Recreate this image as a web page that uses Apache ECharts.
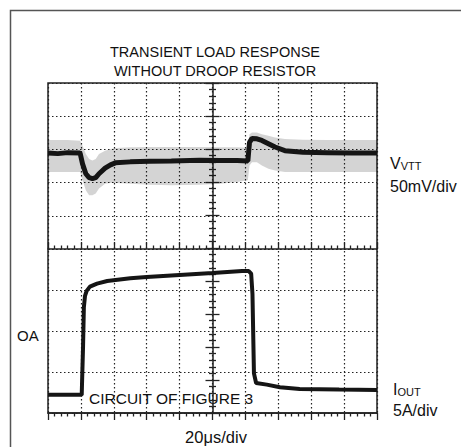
<!DOCTYPE html>
<html>
<head>
<meta charset="utf-8">
<script src="https://cdn.jsdelivr.net/npm/echarts@6/dist/echarts.min.js"></script>
<style>
html,body{margin:0;padding:0;background:#fff;}
#c{width:461px;height:447px;}
</style>
</head>
<body>
<div id="c"></div>
<script>
// ---- data (time in µs, 20 µs/div; vertical in screen divisions, 0 = bottom graticule line) ----
var timeTicks = [0, 20, 40, 60, 80, 100, 120, 140, 160, 180, 200];

var vttTime = [0, 6, 12, 19.5, 21, 23, 25, 27, 29, 31, 34.7, 38, 41, 50, 62, 75, 92, 105, 115, 121.5, 122.5, 124, 127, 130, 134, 138, 144, 155, 170, 185, 200];
var vttDiv  = [7.88, 7.86, 7.89, 7.88, 7.55, 7.25, 7.13, 7.10, 7.13, 7.25, 7.42, 7.52, 7.58, 7.61, 7.63, 7.64, 7.66, 7.65, 7.65, 7.64, 8.20, 8.32, 8.31, 8.26, 8.16, 8.06, 7.95, 7.90, 7.89, 7.88, 7.88];
var vttNoiseTop    = [8.27, 8.27, 8.27, 8.25, 8.10, 7.85, 7.70, 7.65, 7.70, 7.85, 7.95, 8.00, 8.03, 8.05, 8.06, 8.06, 8.06, 8.05, 8.05, 8.04, 8.45, 8.50, 8.50, 8.45, 8.40, 8.35, 8.30, 8.28, 8.27, 8.27, 8.27];
var vttNoiseBottom = [7.30, 7.30, 7.30, 7.30, 7.05, 6.75, 6.60, 6.60, 6.65, 6.80, 6.95, 6.97, 6.97, 6.95, 6.92, 6.90, 6.92, 6.95, 7.00, 7.05, 7.50, 7.60, 7.60, 7.50, 7.40, 7.35, 7.30, 7.30, 7.30, 7.30, 7.30];

var ioutTime = [0, 20.5, 21.3, 21.8, 22.5, 23.5, 25.5, 29.8, 36, 50, 60, 80, 100, 118, 122, 123.5, 124.3, 125.2, 126.5, 133, 141, 153, 177, 200];
var ioutDiv  = [0.55, 0.55, 2.0, 3.2, 3.55, 3.7, 3.83, 3.92, 4.0, 4.08, 4.12, 4.18, 4.24, 4.30, 4.30, 4.22, 3.6, 1.2, 0.91, 0.86, 0.78, 0.73, 0.71, 0.70];

var titleLines = ['TRANSIENT LOAD RESPONSE', 'WITHOUT DROOP RESISTOR'];

// ---- build ----
function pairs(xs, ys) { return xs.map(function (x, i) { return [x, ys[i]]; }); }

var dotted = { color: '#222', width: 1.2, type: [1.5, 2.5] };
var FONT = 'Liberation Sans';
var noAxis = { axisLine: { show: false }, axisTick: { show: false }, axisLabel: { show: false } };
var tickStyle = { color: '#222', width: 1.3 };

function centerAxisX(gridIndex, position) {
  return { gridIndex: gridIndex, type: 'value', min: 0, max: 200, interval: 20, position: position,
    axisLine: { show: true, lineStyle: { color: '#222', width: 1.5 } },
    axisTick: { show: true, inside: true, length: 7, lineStyle: tickStyle },
    minorTick: { show: true, splitNumber: 5, length: 3.5, lineStyle: tickStyle },
    axisLabel: { show: false }, splitLine: { show: false } };
}
function centerAxisY(inside, showLine) {
  return { gridIndex: 0, type: 'value', min: 0, max: 10, interval: 1, position: 'left', offset: -164.5,
    axisLine: { show: showLine, lineStyle: { color: '#222', width: 1.5 } },
    axisTick: { show: true, inside: inside, length: 7, lineStyle: tickStyle },
    minorTick: { show: true, splitNumber: 5, length: 3.5, lineStyle: tickStyle },
    axisLabel: { show: false }, splitLine: { show: false } };
}
function txt(text, x, y, size, align) {
  return { type: 'text', style: { text: text, x: x, y: y, textAlign: align || 'left', textVerticalAlign: 'middle',
    fontSize: size, fontFamily: FONT, fill: '#111' } };
}
function subTxt(main, sub, x, y) {
  return { type: 'text', style: { text: '{a|' + main + '}{b|' + sub + '}', x: x, y: y, textAlign: 'left', textVerticalAlign: 'middle',
    rich: { a: { fontSize: 16, fontFamily: FONT, fill: '#111', verticalAlign: 'bottom', lineHeight: 17 },
            b: { fontSize: 11, fontFamily: FONT, fill: '#111', verticalAlign: 'bottom', lineHeight: 17 } } } };
}

var chart = echarts.init(document.getElementById('c'), null, { renderer: 'svg' });
chart.setOption({
  animation: false,
  backgroundColor: '#fff',
  grid: [
    { left: 48, top: 83, width: 329, height: 330, show: true, borderColor: '#222', borderWidth: 1.5, backgroundColor: 'transparent' },
    { left: 48, top: 83, width: 329, height: 166 },
    { left: 48, top: 249, width: 329, height: 164 }
  ],
  xAxis: [
    Object.assign({ gridIndex: 0, type: 'value', min: timeTicks[0], max: timeTicks[timeTicks.length - 1], interval: 20,
      splitLine: { show: true, lineStyle: dotted } }, noAxis),
    centerAxisX(1, 'bottom'),
    centerAxisX(2, 'top')
  ],
  yAxis: [
    Object.assign({ gridIndex: 0, type: 'value', min: 0, max: 10, interval: 1, splitLine: { show: false } }, noAxis),
    Object.assign({ gridIndex: 1, type: 'value', min: 0, max: 5, interval: 1, splitLine: { show: true, lineStyle: dotted } }, noAxis),
    Object.assign({ gridIndex: 2, type: 'value', min: 0, max: 4, interval: 1, splitLine: { show: true, lineStyle: dotted } }, noAxis),
    centerAxisY(true, true),
    centerAxisY(false, false)
  ],
  series: [
    { type: 'custom', xAxisIndex: 0, yAxisIndex: 0, data: [[vttTime[0], vttNoiseTop[0]]], silent: true, z: 1,
      renderItem: function (params, api) {
        var pts = [], i;
        for (i = 0; i < vttTime.length; i++) pts.push(api.coord([vttTime[i], vttNoiseTop[i]]));
        for (i = vttTime.length - 1; i >= 0; i--) pts.push(api.coord([vttTime[i], vttNoiseBottom[i]]));
        return { type: 'polygon', shape: { points: pts }, style: { fill: 'rgba(0,0,0,0.17)', stroke: 'none' } };
      } },
    { type: 'line', xAxisIndex: 0, yAxisIndex: 0, data: pairs(vttTime, vttDiv), symbol: 'none', z: 3,
      lineStyle: { color: '#151515', width: 5 } },
    { type: 'line', xAxisIndex: 0, yAxisIndex: 0, data: pairs(ioutTime, ioutDiv), symbol: 'none', z: 3,
      lineStyle: { color: '#151515', width: 4 } }
  ],
  graphic: [
    { type: 'rect', shape: { x: 10.5, y: 10.5, width: 600, height: 600 }, style: { fill: 'none', stroke: '#555', lineWidth: 1.5 }, silent: true },
    txt(titleLines[0], 215, 51.5, 14.5, 'center'),
    txt(titleLines[1], 215, 70.5, 14.5, 'center'),
    subTxt('V', 'VTT', 390, 163),
    txt('50mV/div', 390, 186, 16),
    subTxt('I', 'OUT', 393, 389),
    txt('5A/div', 393, 410, 16),
    txt('OA', 17, 335, 15),
    txt('CIRCUIT OF FIGURE 3', 89, 398, 15.5),
    txt('20μs/div', 216, 437, 16.5, 'center')
  ]
});
</script>
</body>
</html>
